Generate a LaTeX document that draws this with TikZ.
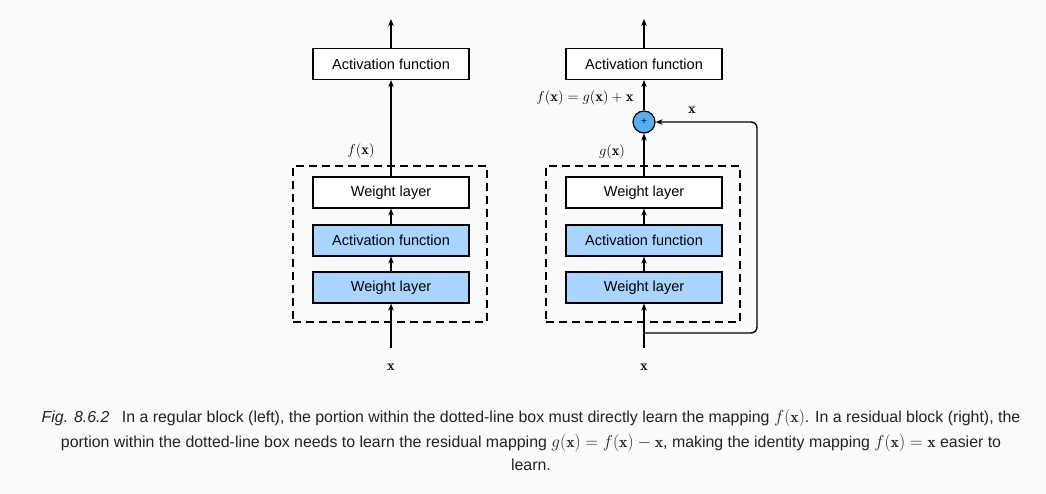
\documentclass[tikz,border=0pt]{standalone}
\usepackage{fontspec}
\newfontfamily\boxfont{Liberation Sans}
\newfontfamily\capfont{Liberation Sans}
\usetikzlibrary{arrows.meta}
\definecolor{bg}{HTML}{FAFAFA}
\definecolor{lblue}{HTML}{A9D4FF}
\definecolor{cblue}{HTML}{56AEF0}
\definecolor{captxt}{HTML}{222222}
\tikzset{
  box/.style={draw, line width=1.2pt, minimum width=156pt, minimum height=31pt, inner sep=0pt, font=\fontsize{14.5}{16}\boxfont, fill=white},
  bbox/.style={box, fill=lblue},
  arr/.style={-{Stealth[length=7pt,width=5.5pt]}, line width=1.4pt},
  dbox/.style={draw, dashed, dash pattern=on 8pt off 5pt, line width=1.3pt, minimum width=194pt, minimum height=156pt, inner sep=0pt},
  mlab/.style={font=\fontsize{14.6}{16}\selectfont, inner sep=0pt},
  captext/.style={font=\fontsize{15.9}{18}\capfont, text=captxt, inner sep=0pt, anchor=base},
}
\begin{document}
\begin{tikzpicture}[x=1pt,y=-1pt]
\fill[bg] (0,0) rectangle (1046,494);
\useasboundingbox (0,0) rectangle (1046,494);
% left block
\node[dbox] (d1) at (390,244) {};
\node[box] (la1) at (391,64) {Activation function};
\node[box] (lw2) at (391,192.5) {Weight layer};
\node[bbox] (la2) at (391,240.5) {Activation function};
\node[bbox] (lw1) at (391,287.5) {Weight layer};
\coordinate (lin) at (391,348);
\coordinate (lout) at (391,19);
\node[mlab] (lx) at (391,367) {$\mathbf{x}$};
\node[mlab] (lf) at (361,151) {$f(\mathbf{x})$};
\draw[arr] (lin) -- (lw1.south);
\draw[arr] (lw1.north) -- (la2.south);
\draw[arr] (la2.north) -- (lw2.south);
\draw[arr] (lw2.north) -- (la1.south);
\draw[arr] (la1.north) -- (lout);
% right block
\node[dbox] (d2) at (643,244) {};
\node[box] (ra1) at (644,64) {Activation function};
\node[box] (rw2) at (644,192.5) {Weight layer};
\node[bbox] (ra2) at (644,240.5) {Activation function};
\node[bbox] (rw1) at (644,287.5) {Weight layer};
\node[circle, draw, line width=1.2pt, fill=cblue, minimum size=22pt, inner sep=0pt, font=\fontsize{10}{10}\boxfont] (plus) at (644,122) {+};
\coordinate (rin) at (644,348);
\coordinate (rout) at (644,19);
\coordinate (sk) at (644,333);
\coordinate (sk1) at (757,333);
\coordinate (sk2) at (757,122);
\node[mlab] (rx) at (644,367) {$\mathbf{x}$};
\node[mlab] (rg) at (612,152) {$g(\mathbf{x})$};
\node[mlab] (rf) at (585,98) {$f(\mathbf{x}) = g(\mathbf{x}) + \mathbf{x}$};
\node[mlab] (sx) at (692,110) {$\mathbf{x}$};
\draw[arr] (rin) -- (rw1.south);
\draw[arr] (rw1.north) -- (ra2.south);
\draw[arr] (ra2.north) -- (rw2.south);
\draw[arr] (rw2.north) -- (plus.south);
\draw[arr] (plus.north) -- (ra1.south);
\draw[arr] (ra1.north) -- (rout);
\draw[arr, rounded corners=6pt] (sk) -- (sk1) -- (sk2) -- (plus.east);
% caption
\node[captext] (c1) at (531,422) {\textit{Fig. 8.6.2}\hspace{0.5em} In a regular block (left), the portion within the dotted-line box must directly learn the mapping $f(\mathbf{x})$. In a residual block (right), the};
\node[captext] (c2) at (531,447) {portion within the dotted-line box needs to learn the residual mapping $g(\mathbf{x}) = f(\mathbf{x}) - \mathbf{x}$, making the identity mapping $f(\mathbf{x}) = \mathbf{x}$ easier to};
\node[captext] (c3) at (531,470) {learn.};
\end{tikzpicture}
\end{document}
